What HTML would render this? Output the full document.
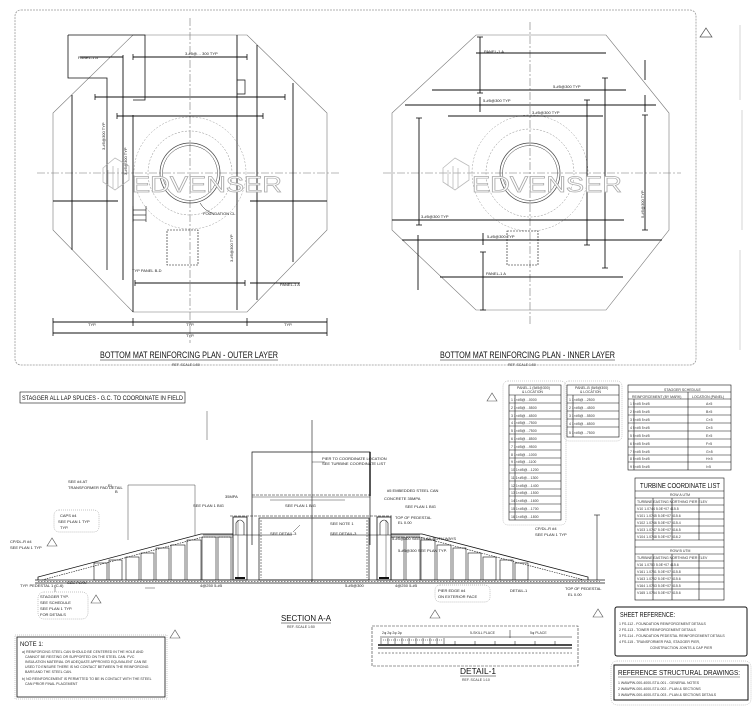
<!DOCTYPE html>
<html><head><meta charset="utf-8"><style>
html,body{margin:0;padding:0;background:#fff;}
svg{display:block;font-family:"Liberation Sans Narrow","Liberation Sans",sans-serif;}
.t{font-size:4px;fill:#222;}
.s{font-size:3.5px;fill:#333;}
</style></head><body>
<svg width="752" height="711" viewBox="0 0 752 711" xmlns="http://www.w3.org/2000/svg">
<rect width="752" height="711" fill="#fff"/>
<!-- outer border of plans -->
<rect x="15" y="10" width="681" height="355" rx="6" fill="none" stroke="#999" stroke-width="0.8" stroke-dasharray="2,1"/>
<g fill="none" stroke="#bbb" stroke-width="0.6"><line x1="740" y1="25" x2="740" y2="100"/><line x1="742" y1="110" x2="742" y2="230"/><line x1="740" y1="250" x2="740" y2="350"/></g>
<path d="M706,28 l-6,9 h12 z" fill="none" stroke="#555" stroke-width="0.7"/>

<!-- ===== LEFT PLAN ===== -->
<g stroke="#111" fill="none">
<polygon points="133,35 247,35 327,113 327,230 247,312 133,312 53,230 53,113" stroke="#777" stroke-width="0.6"/>
<g stroke-width="0.6" stroke="#777" stroke-dasharray="8,2,2,2"><line x1="37" y1="173" x2="340" y2="173"/><line x1="190" y1="18" x2="190" y2="343"/></g>
<circle cx="190" cy="173" r="30" stroke="#444" stroke-width="0.7"/><circle cx="190" cy="173" r="27.5" stroke="#444" stroke-width="0.5"/>
<circle cx="190" cy="173" r="42" stroke="#888" stroke-width="0.5" stroke-dasharray="2,1.5"/>
<circle cx="190" cy="173" r="56" stroke="#999" stroke-width="0.5" stroke-dasharray="2,1.5"/>
<polyline points="68,35 145,35 145,100 133,100" stroke-width="0.8"/>
<polyline points="68,35 68,78 107,78 107,270" stroke-width="0.8"/>
<g stroke-width="0.9">
<line x1="123" y1="55" x2="123" y2="280"/><line x1="72" y1="95" x2="72" y2="250"/><line x1="133" y1="115" x2="133" y2="312"/>
<line x1="237" y1="35" x2="237" y2="310"/><line x1="257" y1="45" x2="257" y2="300"/><line x1="293" y1="83" x2="293" y2="262"/>
<line x1="133" y1="57" x2="247" y2="57"/><line x1="95" y1="97" x2="285" y2="97"/><line x1="117" y1="116" x2="263" y2="116"/>
<line x1="53" y1="201" x2="118" y2="201"/><line x1="250" y1="201" x2="327" y2="201"/>
<line x1="135" y1="283" x2="245" y2="283"/><line x1="250" y1="283" x2="300" y2="283"/>
<line x1="53" y1="322" x2="327" y2="322"/><line x1="53" y1="333" x2="327" y2="333"/>
<line x1="80" y1="57" x2="123" y2="57"/>
</g>
<g stroke-width="0.8"><line x1="53" y1="318" x2="53" y2="336"/><line x1="133" y1="318" x2="133" y2="326"/><line x1="247" y1="318" x2="247" y2="326"/><line x1="327" y1="318" x2="327" y2="336"/>
<line x1="95" y1="94" x2="95" y2="100"/><line x1="285" y1="94" x2="285" y2="100"/><line x1="117" y1="113" x2="117" y2="119"/><line x1="263" y1="113" x2="263" y2="119"/>
<line x1="133" y1="54" x2="133" y2="60"/><line x1="247" y1="54" x2="247" y2="60"/><line x1="135" y1="280" x2="135" y2="286"/><line x1="245" y1="280" x2="245" y2="286"/></g>
<path d="M237,80 h8 v14 h-8" stroke-width="0.7"/>
<rect x="167" y="230" width="31" height="35" stroke-width="0.6" stroke-dasharray="2,1"/>
<g stroke-width="0.6"><line x1="133" y1="206" x2="133" y2="222"/><line x1="146" y1="206" x2="146" y2="222"/><line x1="133" y1="210" x2="146" y2="210"/><line x1="133" y1="215" x2="146" y2="215"/><line x1="133" y1="220" x2="146" y2="220"/></g>
<path d="M200,203 q5,8 12,10" stroke-width="0.5"/>
</g>
<text class="t" x="185" y="55">3-#5@… 300 TYP</text>
<text class="t" x="78" y="59">PANEL-1 A</text>
<text class="t" x="203" y="215">FOUNDATION CL</text>
<text class="t" x="132" y="272">TYP PANEL B-D</text>
<text class="t" x="280" y="286">PANEL-1 A</text>
<text class="t" x="88" y="326">TYP.</text><text class="t" x="186" y="326">TYP.</text><text class="t" x="284" y="326">TYP.</text><text class="t" x="186" y="337">TYP.</text>
<text class="t" transform="translate(105,150) rotate(-90)">3-#5@300 TYP</text>
<text class="t" transform="translate(127,175) rotate(-90)">3-#5@300 TYP</text>
<text class="t" transform="translate(233,262) rotate(-90)">3-#5@300 TYP</text>
<line x1="100" y1="360" x2="278" y2="360" stroke="#111" stroke-width="0.6"/>
<text x="100" y="358" font-size="9" textLength="178" lengthAdjust="spacingAndGlyphs" fill="#111">BOTTOM MAT REINFORCING PLAN - OUTER LAYER</text>
<text class="s" x="172" y="366">REF. SCALE 1:50</text>

<!-- ===== RIGHT PLAN ===== -->
<g stroke="#111" fill="none">
<polygon points="476,35 606,35 669,113 669,230 606,310 476,310 392,230 392,113" stroke="#777" stroke-width="0.6"/>
<g stroke-width="0.6" stroke="#777" stroke-dasharray="8,2,2,2"><line x1="383" y1="173" x2="681" y2="173"/><line x1="530" y1="22" x2="530" y2="325"/></g>
<circle cx="530" cy="173" r="30" stroke="#444" stroke-width="0.7"/><circle cx="530" cy="173" r="27.5" stroke="#444" stroke-width="0.5"/>
<circle cx="530" cy="173" r="44" stroke="#888" stroke-width="0.5" stroke-dasharray="2,1.5"/>
<circle cx="530" cy="173" r="58" stroke="#999" stroke-width="0.5" stroke-dasharray="2,1.5"/>
<g stroke-width="0.9">
<line x1="476" y1="53" x2="606" y2="53"/><line x1="432" y1="90" x2="626" y2="90"/><line x1="405" y1="105" x2="656" y2="105"/>
<line x1="448" y1="116" x2="603" y2="116"/><line x1="392" y1="220" x2="624" y2="220"/><line x1="402" y1="240" x2="662" y2="240"/>
<line x1="440" y1="277" x2="623" y2="277"/>
<line x1="419" y1="118" x2="419" y2="225"/><line x1="480" y1="37" x2="480" y2="93"/><line x1="480" y1="97" x2="480" y2="112"/>
<line x1="483" y1="252" x2="483" y2="310"/><line x1="483" y1="233" x2="483" y2="245"/><line x1="587" y1="100" x2="587" y2="245"/><line x1="605" y1="78" x2="605" y2="268"/>
<line x1="645" y1="115" x2="645" y2="230"/><line x1="645" y1="60" x2="645" y2="80"/><line x1="645" y1="95" x2="645" y2="112"/><line x1="418" y1="235" x2="418" y2="290"/>
</g>
<g stroke-width="0.8">
<line x1="416" y1="118" x2="422" y2="118"/><line x1="416" y1="225" x2="422" y2="225"/><line x1="584" y1="100" x2="590" y2="100"/><line x1="584" y1="245" x2="590" y2="245"/>
<line x1="602" y1="78" x2="608" y2="78"/><line x1="602" y1="268" x2="608" y2="268"/><line x1="642" y1="115" x2="648" y2="115"/><line x1="642" y1="230" x2="648" y2="230"/>
<line x1="477" y1="37" x2="483" y2="37"/><line x1="477" y1="93" x2="483" y2="93"/><line x1="480" y1="310" x2="486" y2="310"/><line x1="480" y1="252" x2="486" y2="252"/>
</g>
<rect x="507" y="231" width="31" height="34" stroke-width="0.6" stroke-dasharray="2,1"/>
</g>
<text class="t" x="484" y="53">PANEL-1 A</text><text class="t" x="553" y="88">5-#5@300 TYP</text>
<text class="t" x="483" y="102">5-#5@300 TYP</text><text class="t" x="532" y="114">3-#5@300 TYP</text>
<text class="t" x="421" y="218">3-#5@300 TYP</text><text class="t" x="487" y="238">5-#5@300 TYP</text><text class="t" x="486" y="275">PANEL-1 A</text>
<text class="t" transform="translate(644,218) rotate(-90)">5-#5@300 TYP</text>
<line x1="440" y1="360" x2="615" y2="360" stroke="#111" stroke-width="0.6"/>
<text x="440" y="358" font-size="9" textLength="175" lengthAdjust="spacingAndGlyphs" fill="#111">BOTTOM MAT REINFORCING PLAN - INNER LAYER</text>
<text class="s" x="508" y="366">REF. SCALE 1:50</text>

<!-- watermark -->
<g fill="none" stroke="#aaa" stroke-width="0.8" opacity="0.8">
<path d="M103,168 l12,-10 l14,8 v14 l-14,10 l-12,-8 z"/><path d="M108,170 v16 M113,166 v22 M118,168 v20"/>
<path d="M443,168 l12,-10 l14,8 v14 l-14,10 l-12,-8 z"/><path d="M448,170 v16 M453,166 v22 M458,168 v20"/>
</g>
<text x="132" y="192" font-size="22" fill="#fff" stroke="#aaa" stroke-width="0.7" textLength="150" lengthAdjust="spacingAndGlyphs" font-family="Liberation Sans">EDVENSER</text>
<text x="472" y="192" font-size="22" fill="#fff" stroke="#aaa" stroke-width="0.7" textLength="150" lengthAdjust="spacingAndGlyphs" font-family="Liberation Sans">EDVENSER</text>

<!-- ===== SECTION A-A ===== -->
<rect x="20" y="392" width="165" height="11" fill="none" stroke="#111" stroke-width="0.6"/>
<text x="22" y="400" font-size="6.5" textLength="161" lengthAdjust="spacingAndGlyphs" fill="#111">STAGGER ALL LAP SPLICES - G.C. TO COORDINATE IN FIELD</text>
<g stroke="#111" fill="none">
<line x1="312" y1="420" x2="312" y2="582" stroke-width="0.6"/>
<polyline points="252,545 252,452 370,452 370,545" stroke-width="0.7"/>
<line x1="370" y1="452" x2="370" y2="496" stroke-width="1.4"/>
<line x1="252" y1="495" x2="370" y2="495" stroke-width="0.5" stroke-dasharray="3,1"/>
<line x1="252" y1="497" x2="370" y2="497" stroke-width="0.4"/>
<rect x="259" y="518" width="110" height="62" stroke-width="0.7"/>
<line x1="261" y1="520" x2="261" y2="578" stroke-width="0.5" stroke-dasharray="2,1"/><line x1="367" y1="520" x2="367" y2="578" stroke-width="0.5" stroke-dasharray="2,1"/>
<line x1="230" y1="516" x2="392" y2="516" stroke-width="0.6" stroke-dasharray="3,1"/>
<rect x="233" y="517" width="14" height="63" stroke-width="0.8"/>
<rect x="377" y="517" width="14" height="63" stroke-width="0.8"/>
<path d="M236,535 v-12 q4,-6 8,0 v12" stroke-width="0.6"/><path d="M380,535 v-12 q4,-6 8,0 v12" stroke-width="0.6"/>
<line x1="238" y1="520" x2="238" y2="578" stroke-width="0.4"/><line x1="386" y1="520" x2="386" y2="578" stroke-width="0.4"/>
<!-- slopes -->
<polyline points="38,580 38,577 201,534 233,534" stroke-width="0.8"/>
<polyline points="42,580 203,537 233,537" stroke-width="0.6" stroke-dasharray="1.5,1"/>
<polyline points="391,534 422,534 588,577 588,580" stroke-width="0.8"/>
<polyline points="391,537 420,537 584,580" stroke-width="0.6" stroke-dasharray="1.5,1"/>
<line x1="203" y1="535" x2="292" y2="535" stroke-width="0.5"/><line x1="330" y1="535" x2="420" y2="535" stroke-width="0.5"/>
<line x1="35" y1="580" x2="605" y2="580" stroke-width="0.8"/>
<line x1="35" y1="583" x2="605" y2="583" stroke-width="0.8"/>
<line x1="38" y1="581.5" x2="600" y2="581.5" stroke-width="0.5" stroke-dasharray="1.5,1.5"/>
<!-- piers -->
<g stroke-width="0.6">
<rect x="94" y="563" width="13" height="17"/><rect x="109" y="560" width="13" height="20"/><rect x="126" y="557" width="13" height="23"/>
<rect x="141" y="553" width="13" height="27"/><rect x="156" y="548" width="13" height="32"/><rect x="171" y="545" width="14" height="35"/>
<rect x="187" y="540" width="14" height="40"/><rect x="202" y="537" width="14" height="43"/><rect x="218" y="537" width="13" height="43"/>
<rect x="515" y="563" width="13" height="17"/><rect x="500" y="560" width="13" height="20"/><rect x="483" y="557" width="13" height="23"/>
<rect x="468" y="553" width="13" height="27"/><rect x="453" y="548" width="13" height="32"/><rect x="437" y="545" width="14" height="35"/>
<rect x="421" y="540" width="14" height="40"/><rect x="406" y="537" width="14" height="43"/><rect x="391" y="537" width="13" height="43"/>
</g>
<line x1="235" y1="578" x2="245" y2="578" stroke-width="2"/><line x1="379" y1="578" x2="389" y2="578" stroke-width="2"/>
<line x1="597" y1="515" x2="597" y2="580" stroke-width="0.6"/><line x1="594" y1="515" x2="600" y2="515" stroke-width="0.6"/>
<!-- leaders -->
<g stroke-width="0.4">
<line x1="312" y1="462" x2="325" y2="462"/><line x1="207" y1="411" x2="207" y2="440"/>
<line x1="128" y1="485" x2="195" y2="485"/><line x1="128" y1="485" x2="128" y2="540"/><line x1="195" y1="485" x2="195" y2="535"/>
<line x1="270" y1="500" x2="345" y2="500"/><line x1="300" y1="525" x2="293" y2="532"/>
<line x1="55" y1="585" x2="55" y2="592"/><line x1="145" y1="588" x2="155" y2="588"/>
</g>
</g>
<!-- section labels -->
<g class="t">
<text x="322" y="460">PIER TO COORDINATE LOCATION</text><text x="322" y="465">SEE TURBINE COORDINATE LIST</text>
<text x="392" y="540">5-#5@300 SEE PLAN BOTH WAYS</text><text x="398" y="552">5-#5@300 SEE PLAN TYP.</text>
<text x="387" y="492">#5 EMBEDDED STEEL CAN</text><text x="384" y="500">CONCRETE 35MPA</text>
<text x="405" y="508">SEE PLAN 1 BIG</text><text x="395" y="519">TOP OF PEDESTAL</text><text x="398" y="524">EL 0.00</text>
<text x="285" y="507">SEE PLAN 1 BIG</text><text x="193" y="507">SEE PLAN 1 BIG</text><text x="225" y="498">35MPA</text>
<text x="330" y="525">SEE NOTE 1</text><text x="270" y="535">SEE DETAIL-3</text><text x="330" y="535">SEE DETAIL-3</text>
<text x="67" y="584">SEE PLAN</text><text x="20" y="587">TYP. PEDESTAL 1 (C-6)</text>
<text x="10" y="543">CP/DL-R #4</text><text x="10" y="549">SEE PLAN 1 TYP</text>
<text x="60" y="517">CAPS #4</text><text x="58" y="523">SEE PLAN 1 TYP</text><text x="60" y="529">TYP.</text>
<text x="68" y="483">SEE #4 AT</text><text x="68" y="489">TRANSFORMER PAD DETAIL</text>
<text x="535" y="530">CP/DL-R #4</text><text x="535" y="536">SEE PLAN 1 TYP</text>
<text x="565" y="590">TOP OF PEDESTAL</text><text x="568" y="596">EL 0.00</text>
<text x="200" y="587">4@250 5-#5</text><text x="345" y="587">5-#5@300</text><text x="395" y="587">4@250 5-#5</text>
<text x="438" y="592">PIER EDGE #4</text><text x="438" y="598">ON EXTERIOR FACE</text><text x="510" y="592">DETAIL-1</text>
<text x="40" y="598">STAGGER TYP.</text><text x="40" y="604">SEE SCHEDULE</text><text x="40" y="610">SEE PLAN 1 TYP.</text><text x="40" y="616">FOR DETAILS</text>
<text x="108" y="487">EL</text><text x="115" y="493">B</text>
</g>
<g fill="none" stroke="#888" stroke-width="0.5" stroke-dasharray="1,1">
<rect x="38" y="592" width="50" height="27" rx="6"/><rect x="54" y="510" width="45" height="22" rx="5"/>
<rect x="435" y="585" width="55" height="17" rx="5"/>
</g>
<g fill="none" stroke="#555" stroke-width="0.6">
<path d="M52,538 l-5,8 h10 z"/><path d="M96,595 l-5,8 h10 z"/><path d="M175,630 l-5,8 h10 z"/><path d="M435,610 l-5,8 h10 z"/><path d="M598,609 l-5,8 h10 z"/><path d="M492,393 l-5,8 h10 z"/>
</g>
<line x1="281" y1="623" x2="331" y2="623" stroke="#111" stroke-width="0.5"/>
<text x="281" y="621" font-size="8" textLength="50" lengthAdjust="spacingAndGlyphs" fill="#111">SECTION A-A</text>
<text class="s" x="287" y="628">REF. SCALE 1:50</text>

<!-- NOTE box -->
<rect x="17" y="637" width="148" height="60" fill="none" stroke="#111" stroke-width="0.8"/>
<rect x="15" y="635" width="152" height="64" fill="none" stroke="#999" stroke-width="0.5" stroke-dasharray="1,1"/>
<text x="20" y="646" font-size="6" fill="#111">NOTE 1:</text>
<g class="s"><text x="22" y="653">a) REINFORCING STEEL CAN SHOULD BE CENTERED IN THE HOLE AND</text><text x="25" y="658">CANNOT BE RESTING OR SUPPORTED ON THE STEEL CAN. PVC</text><text x="25" y="663">INSULATION MATERIAL OR ADEQUATE APPROVED EQUIVALENT CAN BE</text><text x="25" y="668">USED TO ENSURE THERE IS NO CONTACT BETWEEN THE REINFORCING</text><text x="25" y="673">BARS AND THE STEEL CAN.</text><text x="22" y="680">b) NO REINFORCEMENT IS PERMITTED TO BE IN CONTACT WITH THE STEEL</text><text x="25" y="685">CAN PRIOR FINAL PLACEMENT</text></g>

<!-- DETAIL-1 -->
<rect x="372" y="626" width="206" height="40" fill="none" stroke="#333" stroke-width="0.6" stroke-dasharray="3,1"/>
<g stroke="#111" fill="none" stroke-width="0.5">
<line x1="378" y1="645" x2="572" y2="645" stroke-width="1.5"/><line x1="378" y1="648" x2="572" y2="648" stroke-width="1"/>
<line x1="378" y1="653" x2="572" y2="653" stroke-dasharray="2,1.5"/>
<line x1="380" y1="637" x2="572" y2="637"/>
<path d="M381,644 v-6 M388,644 v-6 M395,644 v-6 M402,644 v-6 M409,644 v-6 M416,644 v-6 M423,644 v-6 M430,644 v-6 M437,644 v-6 M444,644 v-6"/>
<path d="M383,640 h60" stroke-dasharray="1,1"/>
<path d="M455,641 v4 M475,641 v4 M495,641 v4 M515,641 v4 M535,641 v4 M555,641 v4 M510,630 v8"/>
</g>
<text class="s" x="382" y="634">2φ   2φ   2φ   2φ</text><text class="s" x="470" y="634">5-SKILL PLACE</text><text class="s" x="530" y="634">5φ PLACE</text>
<line x1="460" y1="676" x2="496" y2="676" stroke="#111" stroke-width="0.5"/>
<text x="460" y="674" font-size="8" textLength="36" lengthAdjust="spacingAndGlyphs" fill="#111">DETAIL-1</text>
<text class="s" x="462" y="681">REF. SCALE 1:10</text>

<!-- TABLE 1 -->
<rect x="503" y="381" width="63" height="144" rx="5" fill="none" stroke="#999" stroke-width="0.5" stroke-dasharray="1,1"/>
<g fill="none" stroke="#111" stroke-width="0.6">
<rect x="509" y="385" width="52" height="135"/><line x1="509" y1="395" x2="561" y2="395"/><line x1="515" y1="395" x2="515" y2="520"/>
<path d="M509,403 h52 M509,411 h52 M509,419 h52 M509,426 h52 M509,434 h52 M509,442 h52 M509,450 h52 M509,458 h52 M509,465 h52 M509,473 h52 M509,481 h52 M509,489 h52 M509,496 h52 M509,504 h52 M509,512 h52"/>
</g>
<g class="s"><text x="517" y="389">PANEL-1 (5#5@300)</text><text x="522" y="393">& LOCATION</text>
<text x="511" y="401">1  1×#5@…0000</text><text x="511" y="409">2  1×#5@…5500</text><text x="511" y="417">3  1×#5@…6500</text><text x="511" y="424">4  1×#5@…7500</text><text x="511" y="432">5  1×#5@…7500</text><text x="511" y="440">6  1×#5@…8500</text><text x="511" y="448">7  1×#5@…9500</text><text x="511" y="456">8  1×#5@…1000</text><text x="511" y="463">9  1×#5@…1100</text><text x="511" y="471">10 1×#5@…1200</text><text x="511" y="479">11 1×#5@…1300</text><text x="511" y="487">12 1×#5@…1400</text><text x="511" y="494">13 1×#5@…1500</text><text x="511" y="502">14 1×#5@…1600</text><text x="511" y="510">15 1×#5@…1700</text><text x="511" y="518">16 1×#5@…1800</text></g>
<!-- TABLE 2 -->
<rect x="564" y="381" width="58" height="60" rx="5" fill="none" stroke="#999" stroke-width="0.5" stroke-dasharray="1,1"/>
<g fill="none" stroke="#111" stroke-width="0.6">
<rect x="567" y="385" width="52" height="52"/><line x1="567" y1="395" x2="619" y2="395"/><line x1="573" y1="395" x2="573" y2="437"/>
<path d="M567,403 h52 M567,411 h52 M567,419 h52 M567,427 h52"/>
</g>
<g class="s"><text x="575" y="389">PANEL-B (5#5@300)</text><text x="580" y="393">& LOCATION</text>
<text x="569" y="401">1  1×#5@…2500</text><text x="569" y="409">2  1×#5@…4500</text><text x="569" y="417">3  1×#5@…5500</text><text x="569" y="425">4  1×#5@…6500</text><text x="569" y="434">5  1×#5@…7500</text></g>
<!-- TABLE 3 -->
<g fill="none" stroke="#111" stroke-width="0.6">
<rect x="628" y="385" width="103" height="85"/><line x1="628" y1="392" x2="731" y2="392"/><line x1="628" y1="399" x2="731" y2="399"/>
<line x1="688" y1="392" x2="688" y2="470"/><line x1="634" y1="399" x2="634" y2="470"/>
<path d="M628,407 h103 M628,415 h103 M628,423 h103 M628,431 h103 M628,439 h103 M628,447 h103 M628,455 h103 M628,462 h103"/>
</g>
<g class="s"><text x="664" y="391">STAGGER SCHEDULE</text><text x="632" y="398">REINFORCEMENT (BY MARK)</text><text x="692" y="398">LOCATION (PANEL)</text>
<text x="630" y="405">1  5×#5 5×#5</text><text x="706" y="405">A×5</text><text x="630" y="413">2  5×#5 5×#5</text><text x="706" y="413">B×5</text><text x="630" y="421">3  5×#5 5×#5</text><text x="706" y="421">C×5</text><text x="630" y="429">4  5×#5 5×#5</text><text x="706" y="429">D×5</text><text x="630" y="437">5  5×#5 5×#5</text><text x="706" y="437">E×5</text><text x="630" y="445">6  5×#5 5×#5</text><text x="706" y="445">F×5</text><text x="630" y="453">7  5×#5 5×#5</text><text x="706" y="453">G×5</text><text x="630" y="460">8  5×#5 5×#5</text><text x="706" y="460">H×5</text><text x="630" y="468">9  5×#5 5×#5</text><text x="706" y="468">I×5</text></g>
<!-- TURBINE LIST -->
<g fill="none" stroke="#111" stroke-width="0.6">
<rect x="635" y="478" width="89" height="122"/><line x1="635" y1="491" x2="724" y2="491"/>
<path d="M635,498 h89 M635,505 h89 M635,512 h89 M635,519 h89 M635,526 h89 M635,533 h89 M635,540 h89 M635,547 h89 M635,554 h89 M635,561 h89 M635,568 h89 M635,575 h89 M635,582 h89 M635,589 h89"/>
<path d="M653,498 v42 M672,498 v42 M699,498 v42 M653,554 v46 M672,554 v46 M699,554 v46" />
</g>
<text x="640" y="488" font-size="7" textLength="80" lengthAdjust="spacingAndGlyphs" fill="#111">TURBINE COORDINATE LIST</text>
<g class="s"><text x="670" y="496">ROW A UTM</text><text x="637" y="503">TURBINE  EASTING  NORTHING  PIER ELEV</text>
<text x="637" y="510">V10  1.0744  5.0E+07  415.5</text><text x="637" y="517">V101  1.0745  5.0E+07  415.6</text><text x="637" y="524">V102  1.0746  5.0E+07  415.4</text><text x="637" y="531">V103  1.0747  5.0E+07  416.5</text><text x="637" y="538">V104  1.0748  5.0E+07  416.2</text>
<text x="670" y="552">ROW B UTM</text><text x="637" y="559">TURBINE  EASTING  NORTHING  PIER ELEV</text>
<text x="637" y="566">V16  1.0750  5.0E+07  415.6</text><text x="637" y="573">V161  1.0751  5.0E+07  415.8</text><text x="637" y="580">V163  1.0752  5.0E+07  415.6</text><text x="637" y="587">V164  1.0753  5.0E+07  415.5</text><text x="637" y="594">V165  1.0754  5.0E+07  415.6</text></g>
<!-- SHEET REFERENCE -->
<rect x="615" y="607" width="132" height="49" rx="2" fill="none" stroke="#111" stroke-width="1"/>
<text x="620" y="617" font-size="7" textLength="55" lengthAdjust="spacingAndGlyphs" fill="#111">SHEET REFERENCE:</text>
<g class="s"><text x="619" y="625">1 FS-112 -  FOUNDATION REINFORCEMENT DETAILS</text><text x="619" y="631">2 FS-113 -  TOWER REINFORCEMENT DETAILS</text><text x="619" y="637">3 FS-114 -  FOUNDATION PEDESTAL REINFORCEMENT DETAILS</text><text x="619" y="643">4 FS-115 -  TRANSFORMER PAD, STAGGER PIER,</text><text x="650" y="649">CONSTRUCTION JOINTS &amp; CAP PIER</text></g>
<!-- REFERENCE STRUCTURAL DRAWINGS -->
<rect x="611" y="661" width="140" height="44" rx="6" fill="none" stroke="#999" stroke-width="0.5" stroke-dasharray="1,1"/>
<rect x="614" y="665" width="134" height="35" fill="none" stroke="#111" stroke-width="1"/>
<text x="618" y="675" font-size="7" textLength="122" lengthAdjust="spacingAndGlyphs" fill="#111">REFERENCE STRUCTURAL DRAWINGS:</text>
<line x1="618" y1="677" x2="740" y2="677" stroke="#111" stroke-width="0.4"/>
<g class="s"><text x="618" y="684">1 WAWPW-000-4000-STU-001 -  GENERAL NOTES</text><text x="618" y="690">2 WAWPW-000-4000-STU-002 -  PLAN &amp; SECTIONS</text><text x="618" y="696">3 WAWPW-000-4000-STU-003 -  PLAN &amp; SECTIONS DETAILS</text></g>
</svg>
</body></html>
